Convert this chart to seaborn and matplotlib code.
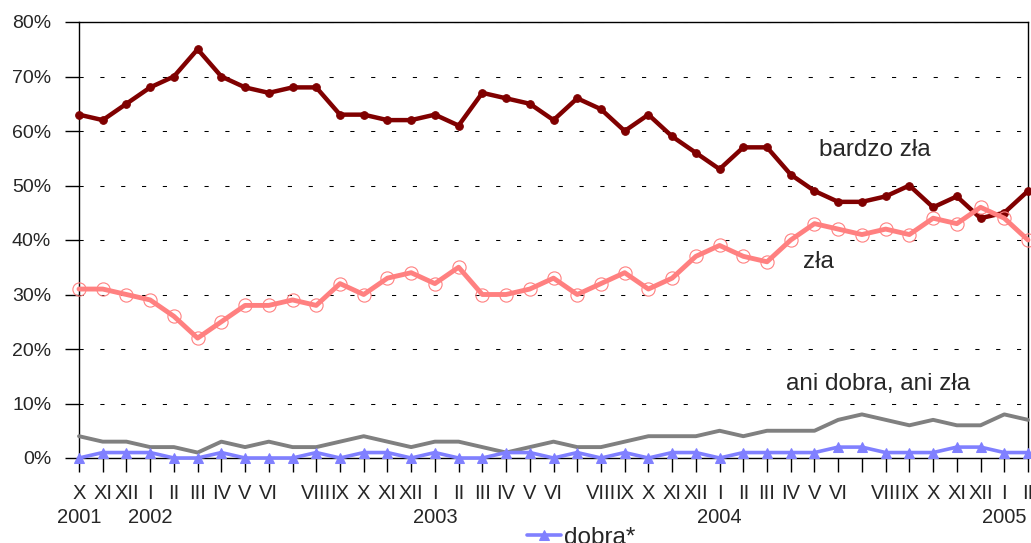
"""
Ocena sytuacji - monthly shares of answers, X 2001 - II 2005.
"""

import matplotlib
matplotlib.use("Agg")
import matplotlib.pyplot as plt
import pandas as pd
import seaborn as sns

# month labels (VII has no label on the original axis)
month_labels = [
    "X", "XI", "XII",
    "I", "II", "III", "IV", "V", "VI", "", "VIII", "IX", "X", "XI", "XII",
    "I", "II", "III", "IV", "V", "VI", "", "VIII", "IX", "X", "XI", "XII",
    "I", "II", "III", "IV", "V", "VI", "", "VIII", "IX", "X", "XI", "XII",
    "I", "II",
]
year_labels = {0: "2001", 3: "2002", 15: "2003", 27: "2004", 39: "2005"}

bardzo_zla = [63, 62, 65, 68, 70, 75, 70, 68, 67, 68, 68, 63, 63, 62, 62, 63,
              61, 67, 66, 65, 62, 66, 64, 60, 63, 59, 56, 53, 57, 57, 52, 49,
              47, 47, 48, 50, 46, 48, 44, 45, 49]
zla = [31, 31, 30, 29, 26, 22, 25, 28, 28, 29, 28, 32, 30, 33, 34, 32,
       35, 30, 30, 31, 33, 30, 32, 34, 31, 33, 37, 39, 37, 36, 40, 43,
       42, 41, 42, 41, 44, 43, 46, 44, 40]
ani_dobra_ani_zla = [4, 3, 3, 2, 2, 1, 3, 2, 3, 2, 2, 3, 4, 3, 2, 3,
                     3, 2, 1, 2, 3, 2, 2, 3, 4, 4, 4, 5, 4, 5, 5, 5,
                     7, 8, 7, 6, 7, 6, 6, 8, 7]
dobra = [0, 1, 1, 1, 0, 0, 1, 0, 0, 0, 1, 0, 1, 1, 0, 1,
         0, 0, 1, 1, 0, 1, 0, 1, 0, 1, 1, 0, 1, 1, 1, 1,
         2, 2, 1, 1, 1, 2, 2, 1, 1]

df = pd.DataFrame({
    "idx": range(len(month_labels)),
    "bardzo zła": bardzo_zla,
    "zła": zla,
    "ani dobra, ani zła": ani_dobra_ani_zla,
    "dobra*": dobra,
})

sns.set_style("white")
plt.rcParams["font.family"] = ["Liberation Sans", "DejaVu Sans"]

fig = plt.figure(figsize=(10.31, 5.43), dpi=100)
ax = fig.add_axes([79 / 1031, 85 / 543, 949 / 1031, 436 / 543])

sns.lineplot(data=df, x="idx", y="bardzo zła", ax=ax, color="#800000",
             lw=3.2, marker="o", markersize=5.5, markeredgecolor="#800000",
             markerfacecolor="#800000", clip_on=False, zorder=3)
sns.lineplot(data=df, x="idx", y="zła", ax=ax, color="#FF8080",
             lw=3.5, marker="o", markersize=9.5, markeredgecolor="#FF8080",
             markerfacecolor="none", markeredgewidth=0.8, clip_on=False,
             zorder=4)
sns.lineplot(data=df, x="idx", y="ani dobra, ani zła", ax=ax,
             color="#808080", lw=2.8, clip_on=False, zorder=3)
sns.lineplot(data=df, x="idx", y="dobra*", ax=ax, color="#8080FF",
             lw=2.6, marker="^", markersize=7.5, markeredgecolor="#8080FF",
             markerfacecolor="#8080FF", clip_on=False, zorder=5,
             label="dobra*", legend=False)

ax.set_xlim(0, len(month_labels) - 1)
ax.set_ylim(0, 80)
ax.set_yticks(range(0, 81, 10))
ax.set_yticklabels([f"{v}%" for v in range(0, 81, 10)], fontsize=14)

tick_text = []
for i, m in enumerate(month_labels):
    tick_text.append(m + ("\n" + year_labels[i] if i in year_labels else "\n"))
ax.set_xticks(range(len(month_labels)))
ax.set_xticklabels(tick_text, fontsize=14.5, linespacing=1.3, va="top")
ax.set_xlabel("")
ax.set_ylabel("")

ax.tick_params(axis="both", direction="out", length=10, width=1,
               color="black", left=True, bottom=True)
ax.tick_params(axis="x", pad=9)
ax.tick_params(axis="y", pad=10)

for s in ax.spines.values():
    s.set_visible(True)
    s.set_color("black")
    s.set_linewidth(1)

ax.yaxis.grid(True, color="black", lw=0.75, linestyle=(0, (4, 16)))
ax.xaxis.grid(False)

ax.text(31.2, 56.5, "bardzo zła", fontsize=17.5, va="center", ha="left")
ax.text(30.5, 36, "zła", fontsize=17.5, va="center", ha="left")
ax.text(29.8, 13.6, "ani dobra, ani zła", fontsize=17.5, va="center",
        ha="left")

handles = [ax.get_lines()[3]]
fig.legend(handles, ["dobra*"], loc="center", bbox_to_anchor=(0.5635, 0.01),
           frameon=False, fontsize=17.5, handlelength=1.4, handletextpad=0.1,
           borderpad=0)

fig.savefig("out.png", dpi=100)
plt.close(fig)
